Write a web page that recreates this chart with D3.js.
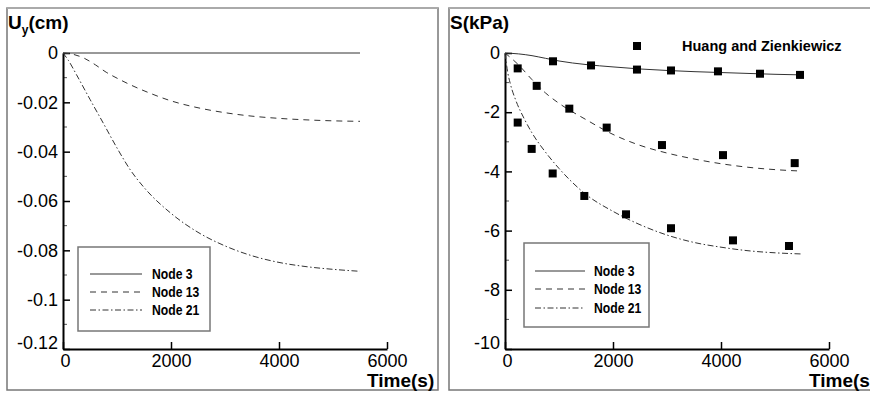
<!DOCTYPE html>
<html>
<head>
<meta charset="utf-8">
<script src="https://cdn.jsdelivr.net/npm/d3@7"></script>
<style>
  html, body { margin: 0; padding: 0; background: #fff; }
  svg { display: block; }
  text { font-family: "Liberation Sans", Arial, sans-serif; fill: #000; }
</style>
</head>
<body>
<svg id="chart" width="870" height="394"></svg>
<script>
// ---------- DATA ----------
// Left panel: vertical displacement U_y (cm) vs time (s)
const uTime3  = [0, 5500];
const uNode3  = [0, 0];
const uTime13 = [0, 200, 400, 600, 800, 1000, 1200, 1600, 2000, 2500, 3000, 3500, 4000, 4500, 5000, 5500];
const uNode13 = [0, -0.0006, -0.0022, -0.0048, -0.0078, -0.0102, -0.0124, -0.0162, -0.0194, -0.0222, -0.0242, -0.0256, -0.0265, -0.0271, -0.0275, -0.0277];
const uTime21 = [0, 100, 250, 500, 750, 1000, 1250, 1500, 2000, 2500, 3000, 3500, 4000, 4500, 5000, 5500];
const uNode21 = [0, -0.003, -0.0088, -0.0188, -0.0286, -0.0385, -0.0475, -0.0545, -0.0650, -0.0727, -0.0782, -0.0822, -0.0849, -0.0866, -0.0877, -0.0885];

// Right panel: stress S (kPa) vs time (s)
const sTime3  = [0, 250, 500, 750, 1000, 1500, 2000, 2500, 3000, 3500, 4000, 4500, 5000, 5500];
const sNode3  = [0, -0.03, -0.09, -0.18, -0.27, -0.39, -0.47, -0.54, -0.59, -0.63, -0.66, -0.69, -0.72, -0.74];
const sTime13 = [0, 250, 500, 750, 1000, 1500, 2000, 2500, 3000, 3500, 4000, 4500, 5000, 5500];
const sNode13 = [0, -0.40, -0.90, -1.35, -1.70, -2.25, -2.75, -3.12, -3.38, -3.58, -3.74, -3.86, -3.94, -3.99];
const sTime21 = [0, 50, 100, 200, 350, 500, 750, 1000, 1500, 2000, 2500, 3000, 3500, 4000, 4500, 5000, 5500];
const sNode21 = [0, -0.65, -1.05, -1.6, -2.2, -2.7, -3.35, -3.9, -4.78, -5.35, -5.8, -6.15, -6.4, -6.56, -6.68, -6.75, -6.79];

// Huang and Zienkiewicz reference points
const hzTimeA = [889, 1593, 2444, 3074, 3944, 4722, 5463];
const hzValA  = [-0.28, -0.42, -0.56, -0.59, -0.62, -0.70, -0.74];
const hzTimeB = [235, 587, 1191, 1883, 2907, 4037, 5365];
const hzValB  = [-0.52, -1.11, -1.88, -2.52, -3.11, -3.45, -3.72];
const hzTimeC = [235, 494, 883, 1469, 2241, 3074, 4222, 5259];
const hzValC  = [-2.35, -3.24, -4.07, -4.83, -5.45, -5.92, -6.33, -6.52];

const xTicks = [0, 2000, 4000, 6000];
const uTicks = [0, -0.02, -0.04, -0.06, -0.08, -0.1, -0.12];
const uTickLabels = ["0", "-0.02", "-0.04", "-0.06", "-0.08", "-0.1", "-0.12"];
const uMinor = [-0.01, -0.03, -0.05, -0.07, -0.09, -0.11];
const sTicks = [0, -2, -4, -6, -8, -10];
const sMinor = [-1, -3, -5, -7, -9];
const seriesNames = ["Node 3", "Node 13", "Node 21"];
const refName = "Huang and Zienkiewicz";

// ---------- STYLES ----------
const dashes = [null, "6,5", "6,2.5,1.5,2.5"];
const curveColor = "#333";

const svg = d3.select("#chart");

function zip(ts, vs) { return ts.map((t, i) => [t, vs[i]]); }

function panel(cfg) {
  const g = svg.append("g");
  // frame
  g.append("rect").attr("x", cfg.fx).attr("y", 8).attr("width", cfg.fw).attr("height", 382)
    .attr("fill", "none").attr("stroke", "#777").attr("stroke-width", 1.5);
  g.append("line").attr("x1", cfg.fx).attr("x2", cfg.fx + cfg.fw).attr("y1", 8).attr("y2", 8)
    .attr("stroke", "#aaa").attr("stroke-width", 2);

  const x = d3.scaleLinear().domain([0, 6000]).range([cfg.x0, cfg.x0 + 324]);
  const y = d3.scaleLinear().domain(cfg.ydom).range([349, 53]);

  // minor ticks
  g.append("g").selectAll("line").data(cfg.minorY).join("line")
    .attr("x1", cfg.x0).attr("x2", cfg.x0 + 4)
    .attr("y1", d => y(d)).attr("y2", d => y(d))
    .attr("stroke", "#555").attr("stroke-width", 1);

  // axes
  const ya = d3.axisLeft(y).tickValues(cfg.yticks).tickSizeInner(-7).tickSizeOuter(0).tickPadding(5)
    .tickFormat((d, i) => cfg.ylabels[i]);
  const yg = g.append("g").attr("transform", `translate(${cfg.x0},0)`).call(ya);
  const xa = d3.axisBottom(x).tickValues(xTicks).tickSizeInner(-7).tickSizeOuter(0).tickPadding(5)
    .tickFormat(d3.format("d"));
  const xg = g.append("g").attr("transform", "translate(0,349)").call(xa);
  [yg, xg].forEach(a => {
    a.select(".domain").attr("stroke", "#000").attr("stroke-width", 2);
    a.selectAll(".tick line").attr("stroke", "#000").attr("stroke-width", 1.5);
    a.selectAll(".tick text").attr("font-size", 18).attr("font-family", "Liberation Sans, Arial, sans-serif").attr("fill", "#000");
  });
  // bottom y label raised as in the original
  yg.selectAll(".tick text").filter(d => d === cfg.ydom[0]).attr("transform", "translate(0,-6)");
  xg.selectAll(".tick text").filter(d => d === 0).attr("transform", "translate(2,0)");

  // curves
  const line = d3.line().x(d => x(d[0])).y(d => y(d[1])).curve(d3.curveMonotoneX);
  cfg.series.forEach((s, i) => {
    g.append("path").datum(s).attr("d", line)
      .attr("fill", "none").attr("stroke", curveColor).attr("stroke-width", 1)
      .attr("stroke-dasharray", dashes[i]);
  });

  // titles
  cfg.title(g);
  g.append("text").attr("x", cfg.x0 + 304).attr("y", 387)
    .attr("font-size", 19).attr("font-weight", "bold").text("Time(s)");

  // legend
  const L = cfg.legend;
  g.append("rect").attr("x", L.x).attr("y", L.y).attr("width", L.w).attr("height", L.h)
    .attr("fill", "#fff").attr("stroke", "#777").attr("stroke-width", 1.5);
  seriesNames.forEach((name, i) => {
    const ly = L.ly[i];
    g.append("line").attr("x1", L.lx1).attr("x2", L.lx2).attr("y1", ly).attr("y2", ly)
      .attr("stroke", curveColor).attr("stroke-width", 1).attr("stroke-dasharray", dashes[i]);
    g.append("text").attr("transform", `translate(${L.tx},${ly + 5}) scale(0.84,1)`)
      .attr("font-size", 14.5).attr("font-weight", "bold").text(name);
  });
  return { g, x, y };
}

// Left panel
panel({
  fx: 7, fw: 431, x0: 63, ydom: [-0.12, 0],
  yticks: uTicks, ylabels: uTickLabels, minorY: uMinor,
  series: [zip(uTime3, uNode3), zip(uTime13, uNode13), zip(uTime21, uNode21)],
  title: g => {
    const t = g.append("text").attr("x", 8).attr("y", 29).attr("font-size", 19).attr("font-weight", "bold");
    t.append("tspan").text("U");
    t.append("tspan").attr("font-size", 12).attr("dy", 5).text("y");
    t.append("tspan").attr("dy", -5).text("(cm)");
  },
  legend: { x: 78, y: 247, w: 132, h: 84, lx1: 90, lx2: 142, tx: 152, ly: [274, 292, 310] }
});

// Right panel
const R = panel({
  fx: 449, fw: 440, x0: 505, ydom: [-10, 0],
  yticks: sTicks, ylabels: sTicks.map(String), minorY: sMinor,
  series: [zip(sTime3, sNode3), zip(sTime13, sNode13), zip(sTime21, sNode21)],
  title: g => {
    g.append("text").attr("x", 450).attr("y", 29).attr("font-size", 19).attr("font-weight", "bold").text("S(kPa)");
  },
  legend: { x: 524, y: 243, w: 125, h: 84, lx1: 535, lx2: 585, tx: 594, ly: [271, 289, 308] }
});

// Reference squares
const pts = zip(hzTimeA, hzValA).concat(zip(hzTimeB, hzValB), zip(hzTimeC, hzValC));
R.g.append("g").selectAll("rect").data(pts).join("rect")
  .attr("x", d => R.x(d[0]) - 4).attr("y", d => R.y(d[1]) - 4)
  .attr("width", 8).attr("height", 8).attr("fill", "#000");

// reference legend
R.g.append("rect").attr("x", 633).attr("y", 42).attr("width", 8).attr("height", 8).attr("fill", "#000");
R.g.append("text").attr("x", 682).attr("y", 51).attr("font-size", 14.5).attr("font-weight", "bold").text(refName);
</script>
</body>
</html>
